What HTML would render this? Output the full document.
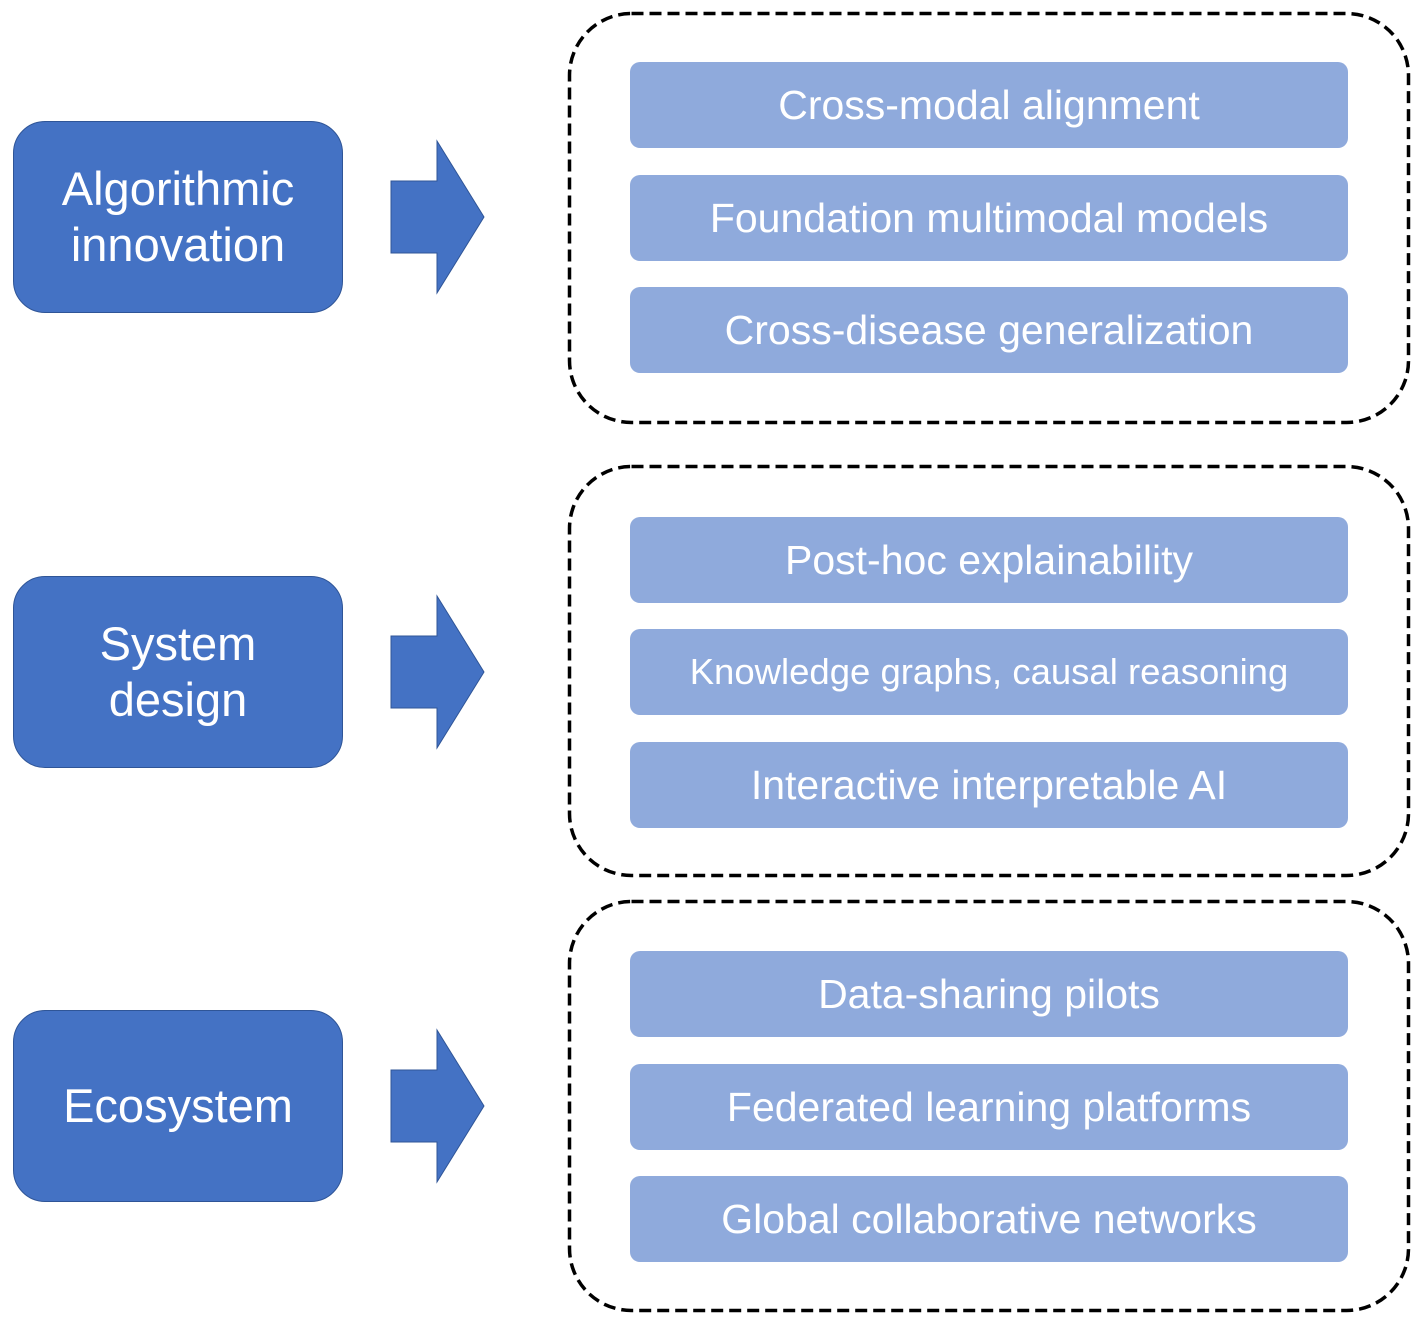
<!DOCTYPE html>
<html><head><style>
body{margin:0;width:1418px;height:1321px;background:#fff;position:relative;font-family:"Liberation Sans",Arial,sans-serif;overflow:hidden}
.l{position:absolute;left:13px;width:328px;height:190px;background:#4472C4;border:1px solid #2F5597;border-radius:32px;color:#fff;font-size:47px;line-height:56px;display:flex;align-items:center;justify-content:center;text-align:center}
.i{position:absolute;left:630px;width:718px;height:86px;background:#8FAADC;border-radius:10px;color:#fff;font-size:41px;display:flex;align-items:center;justify-content:center;white-space:nowrap}
svg{position:absolute;left:0;top:0}
</style></head><body>
<div class="l" style="top:121px">Algorithmic<br>innovation</div>
<div class="l" style="top:576px">System<br>design</div>
<div class="l" style="top:1010px">Ecosystem</div>
<svg width="1418" height="1321">
<g fill="#4472C4" stroke="#2F5597" stroke-width="1">
<polygon points="391,181 437,181 437,141 484,217 437,293 437,253 391,253"/>
<polygon points="391,636 437,636 437,596 484,672 437,748 437,708 391,708"/>
<polygon points="391,1070 437,1070 437,1030 484,1106 437,1182 437,1142 391,1142"/>
</g>
<g fill="none" stroke="#000" stroke-width="3.5" stroke-dasharray="12 6">
<rect x="569.5" y="13.5" width="839" height="409" rx="62"/>
<rect x="569.5" y="466.5" width="839" height="409" rx="62"/>
<rect x="569.5" y="901.5" width="839" height="409" rx="62"/>
</g></svg>
<div class="i" style="top:62px">Cross-modal alignment</div>
<div class="i" style="top:175px">Foundation multimodal models</div>
<div class="i" style="top:287px">Cross-disease generalization</div>
<div class="i" style="top:517px">Post-hoc explainability</div>
<div class="i" style="top:629px;font-size:36.5px">Knowledge graphs, causal reasoning</div>
<div class="i" style="top:742px">Interactive interpretable AI</div>
<div class="i" style="top:951px">Data-sharing pilots</div>
<div class="i" style="top:1064px">Federated learning platforms</div>
<div class="i" style="top:1176px">Global collaborative networks</div>
</body></html>
